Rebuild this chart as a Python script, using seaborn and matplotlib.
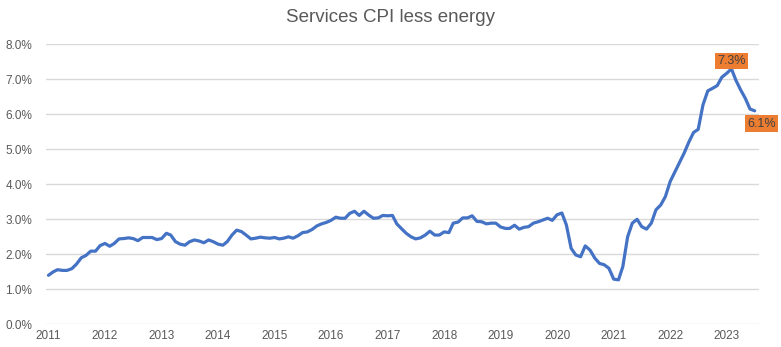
import numpy as np
import pandas as pd
import matplotlib
matplotlib.use("Agg")
import matplotlib.pyplot as plt
import matplotlib.ticker as mticker
import seaborn as sns

# Services CPI less energy, year-over-year % change, monthly Jan 2011 - Jul 2023
start_month = "2011-01-01"
services_cpi = [
    1.40, 1.50, 1.56, 1.54, 1.54, 1.59, 1.72, 1.90, 1.97, 2.09, 2.09, 2.25,   # 2011
    2.31, 2.23, 2.31, 2.44, 2.45, 2.47, 2.45, 2.39, 2.48, 2.48, 2.48, 2.42,   # 2012
    2.45, 2.60, 2.55, 2.36, 2.29, 2.26, 2.36, 2.41, 2.38, 2.33, 2.41, 2.36,   # 2013
    2.29, 2.26, 2.36, 2.55, 2.69, 2.65, 2.55, 2.44, 2.46, 2.49, 2.47, 2.46,   # 2014
    2.48, 2.44, 2.46, 2.50, 2.46, 2.53, 2.62, 2.64, 2.71, 2.81, 2.87, 2.91,   # 2015
    2.97, 3.06, 3.03, 3.03, 3.17, 3.23, 3.11, 3.23, 3.12, 3.03, 3.04, 3.11,   # 2016
    3.10, 3.11, 2.87, 2.73, 2.60, 2.50, 2.44, 2.47, 2.55, 2.66, 2.55, 2.55,   # 2017
    2.64, 2.62, 2.89, 2.92, 3.04, 3.04, 3.10, 2.94, 2.93, 2.87, 2.89, 2.89,   # 2018
    2.78, 2.74, 2.74, 2.83, 2.72, 2.77, 2.79, 2.89, 2.93, 2.98, 3.03, 2.97,   # 2019
    3.13, 3.18, 2.84, 2.17, 1.98, 1.93, 2.24, 2.12, 1.89, 1.74, 1.70, 1.60,   # 2020
    1.29, 1.27, 1.65, 2.50, 2.89, 3.00, 2.79, 2.72, 2.89, 3.27, 3.41, 3.65,   # 2021
    4.08, 4.36, 4.62, 4.89, 5.20, 5.48, 5.57, 6.27, 6.67, 6.74, 6.82, 7.06,   # 2022
    7.17, 7.30, 6.98, 6.70, 6.46, 6.15, 6.10,                                 # 2023
]
year_labels = [str(y) for y in range(2011, 2024)]
y_ticks = [0, 1, 2, 3, 4, 5, 6, 7, 8]

dates = pd.date_range(start_month, periods=len(services_cpi), freq="MS")
df = pd.DataFrame({"date": dates, "cpi": services_cpi})

sns.set_theme(style="white")
plt.rcParams["font.family"] = ["Liberation Sans", "DejaVu Sans"]

text_grey = "#595959"
line_blue = "#4472C4"
label_orange = "#ED7D31"

fig = plt.figure(figsize=(7.81, 3.47), dpi=100)
ax = fig.add_axes([46 / 781, 1 - 324.3 / 347, (759 - 46) / 781, (324.3 - 44.3) / 347])

sns.lineplot(data=df, x="date", y="cpi", ax=ax, color=line_blue, linewidth=2.3)

ax.set_ylim(0, 8)
ax.set_xlim(pd.Timestamp("2010-12-16"), pd.Timestamp("2023-07-29"))
ax.set_yticks(y_ticks)
ax.yaxis.set_major_formatter(mticker.FuncFormatter(lambda v, _: f"{v:.1f}%"))
ax.set_xticks([pd.Timestamp(f"{y}-01-01") for y in year_labels])
ax.set_xticklabels(year_labels)
ax.set_xlabel("")
ax.set_ylabel("")

ax.grid(axis="y", color="#D9D9D9", linewidth=1)
ax.grid(axis="x", visible=False)
for s in ax.spines.values():
    s.set_visible(False)
ax.tick_params(axis="both", length=0, colors=text_grey, labelsize=8.5)
ax.tick_params(axis="y", pad=10)
ax.tick_params(axis="x", pad=4)

fig.text(0.5, 1 - 18 / 347, "Services CPI less energy", ha="center", va="center",
         fontsize=13.5, color=text_grey)

# value labels on the peak and the latest month
peak_i = int(np.argmax(services_cpi))
last_i = len(services_cpi) - 1
box = dict(boxstyle="square,pad=0.18", facecolor=label_orange, edgecolor="none")
ax.annotate(f"{services_cpi[peak_i]:.1f}%", xy=(dates[peak_i], services_cpi[peak_i]),
            xytext=(0, 5.5), textcoords="offset points", ha="center", va="center",
            fontsize=9, color="#404040", bbox=box, annotation_clip=False)
ax.annotate(f"{services_cpi[last_i]:.1f}%", xy=(dates[last_i], services_cpi[last_i]),
            xytext=(4.8, -9.3), textcoords="offset points", ha="center", va="center",
            fontsize=9, color="#404040", bbox=box, annotation_clip=False)

fig.savefig("out.png", dpi=100)
